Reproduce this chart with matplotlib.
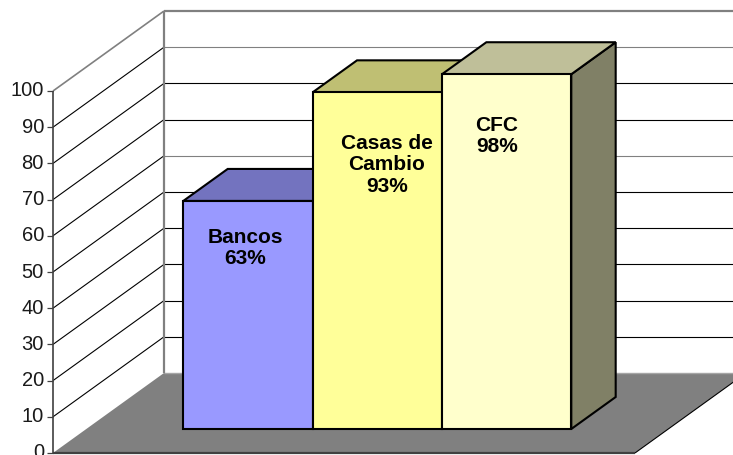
import matplotlib
matplotlib.use('Agg')
import matplotlib.pyplot as plt

nombres = ['Bancos', 'Casas de\nCambio', 'CFC']
valores = [63, 93, 98]
ticks = [0, 10, 20, 30, 40, 50, 60, 70, 80, 90, 100]

colores_frente = ['#9999FF', '#FFFF99', '#FFFFCC']
colores_arriba = ['#7373BF', '#BFBF73', '#BFBF99']
colores_lado = ['#737399', '#808059', '#808066']

plt.rcParams['font.family'] = ['Liberation Sans', 'DejaVu Sans']

# escala: 1 unidad x = ancho de una barra, y = valor del eje
px_x = 129.33
px_y = 3.62
DX = 111 / px_x  # desplazamiento de profundidad completa
DY = 80 / px_y
ancho_total = 4.5
inicio_barras = 0.75
prof_ini = 0.3
prof_fin = 0.7


def pr(x, v, d=0.0):
    return x + d * DX, v + d * DY


def poligono(ax, puntos, color, borde='none', lw=0, z=1):
    xs = [p[0] for p in puntos]
    ys = [p[1] for p in puntos]
    ax.fill(xs, ys, facecolor=color, edgecolor=borde, linewidth=lw, zorder=z, joinstyle='miter')


def linea(ax, a, b, color='black', lw=0.8, z=2):
    ax.plot([a[0], b[0]], [a[1], b[1]], color=color, linewidth=lw, zorder=z, solid_capstyle='butt')


fig = plt.figure(figsize=(7.33, 4.55), dpi=100)
ax = fig.add_axes([0, 0, 1, 1])
ax.set_xlim(-53 / px_x, (733 - 53) / px_x)
ax.set_ylim(-2 / px_y, 453 / px_y)
ax.axis('off')

# piso
poligono(ax, [pr(0, 0), pr(ancho_total, 0), pr(ancho_total, 0, 1), pr(0, 0, 1)], '#808080')
linea(ax, pr(ancho_total, 0), pr(ancho_total, 0, 1), 'black', 0.8, 2)
linea(ax, pr(0, 0, 1), pr(ancho_total, 0, 1), '#A6A6A6', 1.0, 2)

# lineas de las paredes
claras = {60, 90}
for t in ticks[1:]:
    col = '#808080' if t in claras or t == 100 else 'black'
    ancho = 1.6 if t == 100 else 0.8
    linea(ax, pr(0, t, 1), pr(ancho_total, t, 1), col, ancho)
    linea(ax, pr(0, t), pr(0, t, 1), '#808080' if t == 100 else 'black', 1.2 if t == 100 else 0.8)
linea(ax, pr(0, 0, 1), pr(0, 100, 1), '#808080', 1.6, 3)

# ejes
linea(ax, pr(0, 0), pr(0, 100), '#404040', 1.2, 3)
linea(ax, pr(0, 0), pr(ancho_total, 0), '#404040', 1.6, 3)
for t in ticks:
    linea(ax, (-6 / px_x, t), (0, t), '#404040', 0.9, 3)
    ax.text(-9 / px_x, t, str(t), ha='right', va='center', fontsize=14.5, color='#1A1A1A')

# barras
for i, val in enumerate(valores):
    x0 = inicio_barras + i
    x1 = x0 + 1
    z = 5 + i
    poligono(ax, [pr(x1, 0, prof_ini), pr(x1, 0, prof_fin), pr(x1, val, prof_fin), pr(x1, val, prof_ini)],
             colores_lado[i], 'black', 1.5, z)
    poligono(ax, [pr(x0, val, prof_ini), pr(x1, val, prof_ini), pr(x1, val, prof_fin), pr(x0, val, prof_fin)],
             colores_arriba[i], 'black', 1.5, z)
    poligono(ax, [pr(x0, 0, prof_ini), pr(x1, 0, prof_ini), pr(x1, val, prof_ini), pr(x0, val, prof_ini)],
             colores_frente[i], 'black', 1.5, z)

# etiquetas
pos_etiquetas = [(245, 248), (387, 165), (497, 136)]
for i, val in enumerate(valores):
    px, py = pos_etiquetas[i]
    ax.text((px - 53) / px_x, (453 - py) / px_y, f'{nombres[i]}\n{val}%', ha='center', va='center',
            fontsize=15, fontweight='bold', color='black', linespacing=1.17, zorder=10)

fig.savefig('out.png', dpi=100)
